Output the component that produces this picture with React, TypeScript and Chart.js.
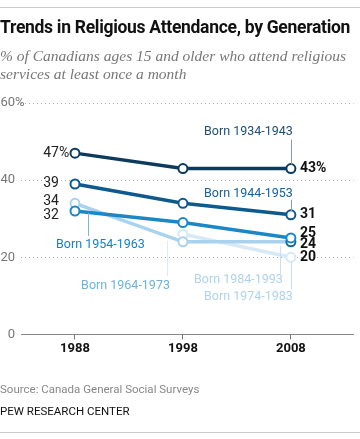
import React, { useEffect, useRef } from "react";
import { Chart, registerables } from "chart.js";

Chart.register(...registerables);

// ---- data ----
const years = [1988, 1998, 2008];
const seriesNames = [
  "Born 1934-1943",
  "Born 1944-1953",
  "Born 1954-1963",
  "Born 1964-1973",
  "Born 1974-1983",
  "Born 1984-1993",
];
const born1934 = [47, 43, 43];
const born1944 = [39, 34, 31];
const born1954 = [32, 29, 25];
const born1964 = [34, 24, 24];
const born1974 = [null, 26, 20];
const born1984 = [null, null, 24];
const yTicks = [0, 20, 40, 60];

// ---- styles ----
const lineColors = ["#0d3b5e", "#0f5a8c", "#1b87c7", "#a9d2ee", "#d6e9f6", "#d6e9f6"];
const labelColors = ["#1d4e74", "#15609a", "#1a80c2", "#6cb2de", "#aed3ee", "#aed3ee"];
const leaderColors = ["#8f9ba6", "#8f9ba6", "#7fb7dc", "#dcebf7", "#c8e0f2", "#c8e0f2"];
const allSeries = [born1934, born1944, born1954, born1964, born1974, born1984];

// nudges for value labels (pixel offsets)
const leftNudge = [0, 0, 5, -2, 0, 0];
const rightNudge = [0, 0, -4, 3, 0, 0];
const showRight = [true, true, true, true, true, false];
// series label placement: anchor point index, align, dx, dy, leader dx, leader y0, y1
const nameLayout = [
  { i: 2, align: "right", dx: 2, dy: -37, lx: 0, l0: -29, l1: -4 },
  { i: 2, align: "right", dx: 2, dy: -21, lx: 0, l0: -15, l1: -4 },
  { i: 0, align: "left", dx: -19, dy: 34, lx: 13, l0: 2, l1: 25 },
  { i: 1, align: "right", dx: -13, dy: 44, lx: -16, l0: -1, l1: 34 },
  { i: 2, align: "right", dx: 2, dy: 40, lx: 0, l0: 4, l1: 32 },
  { i: 2, align: "right", dx: -8, dy: 38, lx: -11, l0: 4, l1: 32 },
];

const FONT = "Roboto, 'Liberation Sans', Arial, sans-serif";

const annotate = {
  id: "annotate",
  afterDatasetsDraw(chart: any) {
    const ctx = chart.ctx;
    const xs = chart.scales.x;
    const ys = chart.scales.y;
    ctx.save();
    ctx.textBaseline = "middle";
    // y tick labels
    ctx.font = `13px ${FONT}`;
    ctx.fillStyle = "#777";
    yTicks.forEach((v) => {
      const y = ys.getPixelForValue(v);
      ctx.textAlign = "right";
      ctx.fillText(String(v), 15, y);
      if (v === 60) {
        ctx.textAlign = "left";
        ctx.fillText("%", 15, y);
      }
    });
    // left value labels
    ctx.font = `14px ${FONT}`;
    ctx.fillStyle = "#222";
    allSeries.forEach((s, k) => {
      const v = s[0];
      if (v == null) return;
      const x = xs.getPixelForValue(years[0]) - 16;
      const y = ys.getPixelForValue(v) + leftNudge[k];
      ctx.textAlign = "right";
      ctx.fillText(String(v), x, y);
      if (k === 0) {
        ctx.textAlign = "left";
        ctx.fillText("%", x, y);
      }
    });
    // right value labels
    ctx.font = `bold 14px ${FONT}`;
    ctx.fillStyle = "#111";
    allSeries.forEach((s, k) => {
      const v = s[2];
      if (v == null || !showRight[k]) return;
      const x = xs.getPixelForValue(years[2]) + 9;
      const y = ys.getPixelForValue(v) + rightNudge[k];
      ctx.textAlign = "left";
      ctx.fillText(k === 0 ? `${v}%` : String(v), x, y);
    });
    // series names with leader lines
    ctx.font = `12.5px ${FONT}`;
    nameLayout.forEach((L, k) => {
      const v = allSeries[k][L.i];
      if (v == null) return;
      const px = xs.getPixelForValue(years[L.i]);
      const py = ys.getPixelForValue(v);
      ctx.strokeStyle = leaderColors[k];
      ctx.lineWidth = 1;
      ctx.beginPath();
      ctx.moveTo(Math.round(px + L.lx) + 0.5, py + L.l0);
      ctx.lineTo(Math.round(px + L.lx) + 0.5, py + L.l1);
      ctx.stroke();
      ctx.fillStyle = labelColors[k];
      ctx.textAlign = L.align as CanvasTextAlign;
      ctx.fillText(seriesNames[k], px + L.dx, py + L.dy);
    });
    ctx.restore();
  },
};

export default function App() {
  const ref = useRef<HTMLCanvasElement>(null);
  useEffect(() => {
    const canvas = ref.current!;
    const datasets = allSeries.map((s, k) => ({
      label: seriesNames[k],
      data: years.map((y, i) => ({ x: y, y: s[i] })),
      borderColor: lineColors[k],
      borderWidth: 3.5,
      pointRadius: 4.5,
      pointBorderWidth: 2,
      pointBackgroundColor: "#fff",
      pointBorderColor: k === 3 ? [lineColors[3], lineColors[3], "#1a6a9a"] : lineColors[k],
      spanGaps: false,
      tension: 0,
      order: k,
    }));
    const chart = new Chart(canvas, {
      type: "line",
      data: { datasets },
      options: {
        animation: false,
        responsive: false,
        layout: { padding: { left: 21, top: 103, right: 0, bottom: 80 } },
        plugins: { legend: { display: false }, tooltip: { enabled: false } },
        scales: {
          x: {
            type: "linear",
            min: 1983,
            max: 2013.8,
            afterBuildTicks: (axis: any) => {
              axis.ticks = years.map((v) => ({ value: v }));
            },
            grid: {
              drawOnChartArea: false,
              drawTicks: true,
              tickLength: 5,
              color: "#777",
            },
            border: { display: true, color: "#888", width: 1 },
            ticks: {
              padding: 2,
              color: "#111",
              font: { family: FONT, size: 13, weight: "bold" },
              callback: (v: any) => String(v),
              maxRotation: 0,
            },
          },
          y: {
            min: 0,
            max: 60,
            afterBuildTicks: (axis: any) => {
              axis.ticks = yTicks.map((v) => ({ value: v }));
            },
            ticks: { display: false },
            grid: {
              drawTicks: false,
              color: (c: any) => (c.tick && c.tick.value === 0 ? "rgba(0,0,0,0)" : "#a8a8a8"),
              lineWidth: 1,
              borderDash: [1, 3],
            },
            border: { display: false, dash: [1, 3] },
          },
        },
      },
      plugins: [annotate],
    } as any);
    return () => chart.destroy();
  }, []);

  const abs: React.CSSProperties = { position: "absolute", left: 0, margin: 0, whiteSpace: "nowrap" };
  return (
    <div style={{ position: "absolute", left: 0, top: 0, width: 360, height: 439, background: "#fff", overflow: "hidden" }}>
      <div style={{ ...abs, top: 7, width: 360, height: 1, background: "#ccc" }} />
      <canvas ref={ref} width={360} height={439} style={{ position: "absolute", left: 0, top: 0, width: 360, height: 439 }} />
      <div style={{ ...abs, top: 17, fontFamily: FONT, fontWeight: 700, fontSize: 17.5, color: "#111", letterSpacing: -0.3 }}>
        Trends in Religious Attendance, by Generation
      </div>
      <div style={{ ...abs, top: 47, fontFamily: "'Liberation Serif', Georgia, serif", fontStyle: "italic", fontSize: 15.5, lineHeight: "18px", color: "#777" }}>
        % of Canadians ages 15 and older who attend religious
        <br />
        services at least once a month
      </div>
      <div style={{ ...abs, top: 382, fontFamily: FONT, fontSize: 11.5, color: "#888" }}>
        Source: Canada General Social Surveys
      </div>
      <div style={{ ...abs, top: 404, fontFamily: FONT, fontSize: 11.5, color: "#111" }}>
        PEW RESEARCH CENTER
      </div>
      <div style={{ ...abs, top: 432, width: 360, height: 1, background: "#ccc" }} />
    </div>
  );
}
